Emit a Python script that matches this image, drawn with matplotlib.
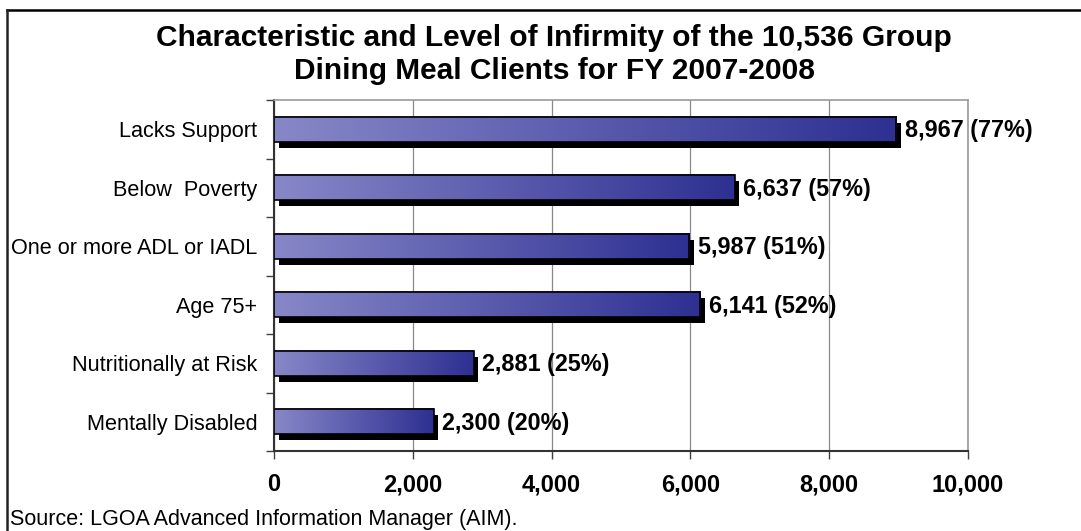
import matplotlib
matplotlib.use("Agg")
import matplotlib.pyplot as plt
import numpy as np
from matplotlib.colors import LinearSegmentedColormap
from matplotlib.lines import Line2D
from matplotlib.transforms import ScaledTranslation

plt.rcParams["font.family"] = ["Liberation Sans", "DejaVu Sans"]

# Client characteristics, top to bottom
categories = [
    "Lacks Support",
    "Below  Poverty",
    "One or more ADL or IADL",
    "Age 75+",
    "Nutritionally at Risk",
    "Mentally Disabled",
]
clients = [8967, 6637, 5987, 6141, 2881, 2300]
percents = [77, 57, 51, 52, 25, 20]
x_ticks = [0, 2000, 4000, 6000, 8000, 10000]

BAR_LIGHT = "#8787C8"
BAR_DARK = "#2E3092"
bar_cmap = LinearSegmentedColormap.from_list("bar", [BAR_LIGHT, BAR_DARK])

W, H = 1081, 531
fig = plt.figure(figsize=(W / 100, H / 100), dpi=100)
ax = fig.add_axes([274 / W, 1 - 451 / H, (968 - 274) / W, (451 - 100) / H])

bar_h = 0.43
y_pos = np.arange(len(categories))
grad = np.linspace(0, 1, 256).reshape(1, -1)
shadow = ax.transData + ScaledTranslation(4.5 / 100, -6 / 100, fig.dpi_scale_trans)

for y, v, p in zip(y_pos, clients, percents):
    # drop shadow, then gradient fill, then outline
    ax.barh(y, v, height=bar_h, color="black", transform=shadow, zorder=2)
    ax.imshow(grad, cmap=bar_cmap, aspect="auto", zorder=3,
              extent=[0, v, y + bar_h / 2, y - bar_h / 2])
    ax.barh(y, v, height=bar_h, facecolor="none", edgecolor="black",
            linewidth=1.2, zorder=4)
    ax.annotate(f"{v:,} ({p}%)", xy=(v, y), xytext=(6, -1),
                textcoords="offset points", va="center", ha="left",
                fontsize=16.8, fontweight="bold", zorder=5, annotation_clip=False)

ax.set_xlim(0, 10000)
ax.set_ylim(len(categories) - 0.5, -0.5)

ax.set_xticks(x_ticks)
ax.set_xticklabels([f"{t:,}" for t in x_ticks], fontsize=17, fontweight="bold")
ax.tick_params(axis="x", length=6, width=1, color="#404040", pad=10)
ax.grid(axis="x", color="#888888", linewidth=0.9)
ax.set_axisbelow(True)

ax.set_yticks(y_pos)
ax.set_yticklabels(categories, fontsize=15.6)
ax.tick_params(axis="y", which="major", length=0, pad=12)
ax.set_yticks(np.arange(-0.5, len(categories)), minor=True)
ax.tick_params(axis="y", which="minor", length=6, width=1, color="#404040")

for side in ("top", "right"):
    ax.spines[side].set_color("#999999")
    ax.spines[side].set_linewidth(1.2)
for side in ("left", "bottom"):
    ax.spines[side].set_color("#333333")
    ax.spines[side].set_linewidth(1.5)

fig.text(554 / W, 1 - 46 / H, "Characteristic and Level of Infirmity of the 10,536 Group",
         ha="center", va="baseline", fontsize=21.5, fontweight="bold")
fig.text(554 / W, 1 - 79 / H, "Dining Meal Clients for FY 2007-2008",
         ha="center", va="baseline", fontsize=21.5, fontweight="bold")
fig.text(10 / W, 1 - 525 / H, "Source: LGOA Advanced Information Manager (AIM).",
         ha="left", va="baseline", fontsize=15.5)

# outer frame: only top and left edges fall inside the canvas
fig.add_artist(Line2D([7.5 / W, 1], [1 - 10 / H] * 2, color="black", linewidth=1.8))
fig.add_artist(Line2D([7.5 / W] * 2, [0, 1 - 10 / H], color="#222222", linewidth=1.8))

fig.savefig("out.png", dpi=100)
